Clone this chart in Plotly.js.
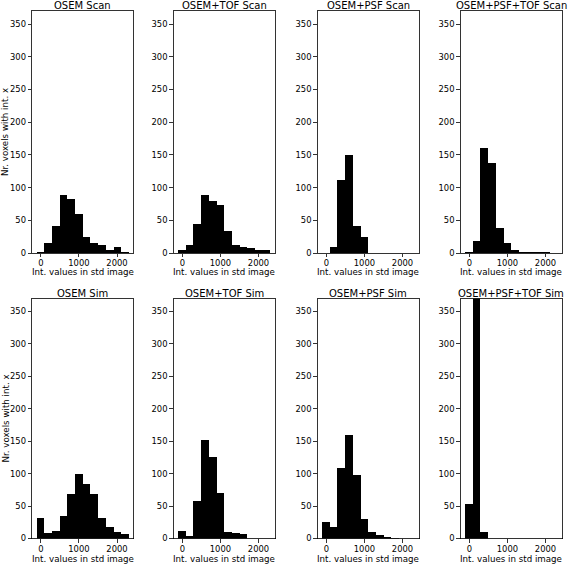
<!DOCTYPE html>
<html>
<head>
<meta charset="utf-8">
<script src="https://cdn.plot.ly/plotly-3.0.1.min.js"></script>
<style>html,body{margin:0;padding:0;background:#fff;}#chart{width:568px;height:565px;}</style>
</head>
<body>
<div id="chart"></div>
<script>
// Histogram bin centres (shared bins, ~202 wide)
const binCenters = [-11, 191, 393, 595, 797, 999, 1201, 1403, 1605, 1807, 2009, 2211];

// Panel titles
const titles = ["OSEM Scan", "OSEM+TOF Scan", "OSEM+PSF Scan", "OSEM+PSF+TOF Scan",
                "OSEM Sim", "OSEM+TOF Sim", "OSEM+PSF Sim", "OSEM+PSF+TOF Sim"];

// Counts per bin
const osemScan       = [2, 15, 42, 88, 83, 59, 25, 15, 13, 5, 9, 2];
const osemTofScan    = [5, 13, 45, 88, 79, 73, 33, 12, 9, 8, 5, 4];
const osemPsfScan    = [0, 9, 111, 150, 41, 25, 0, 0, 0, 0, 0, 0];
const osemPsfTofScan = [1, 19, 160, 138, 38, 15, 5, 2, 1, 1, 1, 0];
const osemSim        = [32, 8, 12, 34, 68, 99, 84, 69, 32, 18, 10, 7];
const osemTofSim     = [12, 4, 58, 152, 125, 70, 10, 8, 7, 0, 0, 0];
const osemPsfSim     = [25, 18, 108, 160, 98, 30, 10, 5, 2, 1, 0, 0];
const osemPsfTofSim  = [53, 397, 10, 0, 0, 0, 0, 0, 0, 0, 0, 0];

const xTickVals = [0, 1000, 2000];
const xTickText = ["0", "1000", "2000"];
const yTickVals = [0, 50, 100, 150, 200, 250, 300, 350];

const xLabel = "Int. values in std image";
const yLabel = "Nr. voxels with int. x";

const series = [osemScan, osemTofScan, osemPsfScan, osemPsfTofScan,
                osemSim, osemTofSim, osemPsfSim, osemPsfTofSim];

const W = 568, H = 565;
const colLeft = [32, 173.5, 317.5, 460.5];
const colW = 101.5;
const rowTop = [11, 298.5];
const rowH = [242, 240];

const FONT = "DejaVu Sans";
const traces = [];
const layout = {
  width: W, height: H,
  margin: {l: 0, r: 0, t: 0, b: 0},
  paper_bgcolor: "#fff", plot_bgcolor: "#fff",
  showlegend: false,
  bargap: 0,
  font: {family: FONT, size: 8, color: "#000"},
  annotations: []
};

series.forEach((vals, i) => {
  const r = Math.floor(i / 4), c = i % 4;
  const n = i + 1;
  const xa = n === 1 ? "x" : "x" + n;
  const ya = n === 1 ? "y" : "y" + n;
  traces.push({
    type: "bar", x: binCenters, y: vals, width: 202,
    xaxis: xa, yaxis: ya,
    marker: {color: "#000", line: {width: 0}},
    hoverinfo: "skip"
  });
  const x0 = colLeft[c] / W, x1 = (colLeft[c] + colW) / W;
  const y1 = 1 - rowTop[r] / H, y0 = 1 - (rowTop[r] + rowH[r]) / H;
  const xKey = n === 1 ? "xaxis" : "xaxis" + n;
  const yKey = n === 1 ? "yaxis" : "yaxis" + n;
  layout[xKey] = {
    domain: [x0, x1], anchor: ya, range: [-233, 2433],
    tickvals: xTickVals, ticktext: xTickText,
    ticks: "outside", ticklen: 3.5, tickwidth: 0.8, tickcolor: "#000",
    ticklabelstandoff: -1,
    showline: true, linecolor: "#000", linewidth: 0.8, mirror: true,
    showgrid: false, zeroline: false,
    tickfont: {family: FONT, size: 8.4, color: "#000"},
    automargin: false, fixedrange: true
  };
  layout[yKey] = {
    domain: [y0, y1], anchor: xa, range: [0, 370],
    tickvals: yTickVals,
    ticks: "outside", ticklen: 3.5, tickwidth: 0.8, tickcolor: "#000",
    showline: true, linecolor: "#000", linewidth: 0.8, mirror: true,
    showgrid: false, zeroline: false,
    tickfont: {family: FONT, size: 8.4, color: "#000"},
    automargin: false, fixedrange: true
  };
  // panel title
  layout.annotations.push({
    text: titles[i], xref: "paper", yref: "paper",
    x: (x0 + x1) / 2, y: y1, xanchor: "center", yanchor: "bottom",
    yshift: -2, showarrow: false,
    font: {family: FONT, size: 10, color: "#000"}
  });
  // x axis title
  const xTitle = {
    text: xLabel, xref: "paper", yref: "paper",
    x: (x0 + x1) / 2, xanchor: "center", showarrow: false, borderpad: 0,
    font: {family: FONT, size: 8.7, color: "#000"}
  };
  if (r === 0) {
    Object.assign(xTitle, {y: y0, yanchor: "middle", yshift: -18.5});
  } else {
    Object.assign(xTitle, {y: 0, yanchor: "bottom", yshift: 0});
  }
  layout.annotations.push(xTitle);
  // y axis title (first column only)
  if (c === 0) {
    layout.annotations.push({
      text: yLabel, xref: "paper", yref: "paper",
      x: 5 / W, y: (y0 + y1) / 2, xanchor: "center", yanchor: "middle",
      textangle: -90, showarrow: false,
      font: {family: FONT, size: 8.7, color: "#000"}
    });
  }
});

Plotly.newPlot("chart", traces, layout, {staticPlot: true, displayModeBar: false});
</script>
</body>
</html>
